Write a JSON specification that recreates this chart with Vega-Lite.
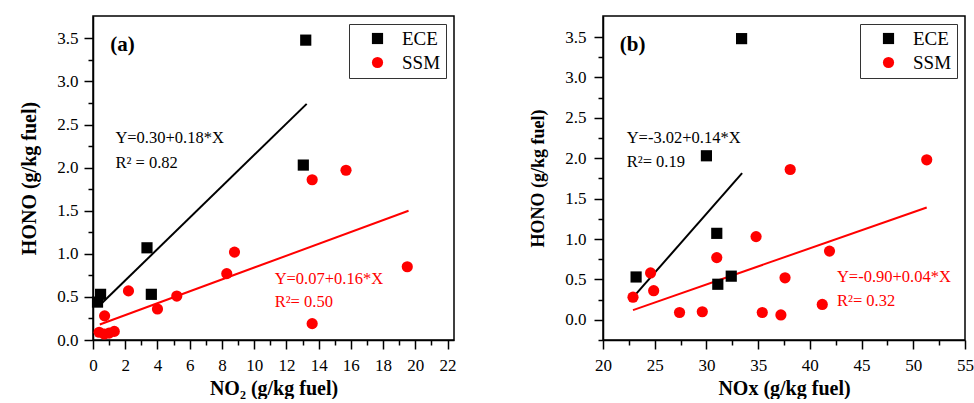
{
  "$schema": "https://vega.github.io/schema/vega-lite/v6.json",
  "autosize": {"type": "pad"},
  "padding": {"left": 19, "top": 15, "right": 0, "bottom": 0},
  "spacing": 149,
  "bounds": "flush",
  "resolve": {"scale": {"color": "independent", "shape": "independent"}},
  "datasets": {
    "aPts": [
      {"x": 13.2, "y": 3.48, "group": "ECE"},
      {"x": 13.05, "y": 2.03, "group": "ECE"},
      {"x": 3.35, "y": 1.07, "group": "ECE"},
      {"x": 3.62, "y": 0.53, "group": "ECE"},
      {"x": 0.47, "y": 0.53, "group": "ECE"},
      {"x": 0.28, "y": 0.44, "group": "ECE"},
      {"x": 13.6, "y": 1.86, "group": "SSM"},
      {"x": 15.7, "y": 1.97, "group": "SSM"},
      {"x": 19.5, "y": 0.85, "group": "SSM"},
      {"x": 13.6, "y": 0.19, "group": "SSM"},
      {"x": 8.78, "y": 1.02, "group": "SSM"},
      {"x": 8.3, "y": 0.77, "group": "SSM"},
      {"x": 5.2, "y": 0.51, "group": "SSM"},
      {"x": 4.0, "y": 0.36, "group": "SSM"},
      {"x": 2.2, "y": 0.57, "group": "SSM"},
      {"x": 0.72, "y": 0.28, "group": "SSM"},
      {"x": 0.38, "y": 0.09, "group": "SSM"},
      {"x": 0.7, "y": 0.07, "group": "SSM"},
      {"x": 1.0, "y": 0.08, "group": "SSM"},
      {"x": 1.32, "y": 0.1, "group": "SSM"}
    ],
    "aFit": [
      {"x": 0.4, "y": 0.4, "group": "ECE"},
      {"x": 13.26, "y": 2.74, "group": "ECE"},
      {"x": 0.42, "y": 0.18, "group": "SSM"},
      {"x": 19.58, "y": 1.5, "group": "SSM"}
    ],
    "aTxt": [
      {"x": 1.39, "y": 2.34, "label": "Y=0.30+0.18*X", "group": "ECE"},
      {"x": 1.39, "y": 2.05, "label": "R² = 0.82", "group": "ECE"},
      {"x": 11.27, "y": 0.71, "label": "Y=0.07+0.16*X", "group": "SSM"},
      {"x": 11.27, "y": 0.44, "label": "R²= 0.50", "group": "SSM"}
    ],
    "aTag": [{"x": 1.07, "y": 3.42, "label": "(a)"}],
    "bPts": [
      {"x": 33.4, "y": 3.48, "group": "ECE"},
      {"x": 30.0, "y": 2.03, "group": "ECE"},
      {"x": 31.0, "y": 1.07, "group": "ECE"},
      {"x": 31.1, "y": 0.44, "group": "ECE"},
      {"x": 32.4, "y": 0.54, "group": "ECE"},
      {"x": 23.2, "y": 0.53, "group": "ECE"},
      {"x": 51.3, "y": 1.98, "group": "SSM"},
      {"x": 38.1, "y": 1.86, "group": "SSM"},
      {"x": 34.8, "y": 1.03, "group": "SSM"},
      {"x": 41.9, "y": 0.85, "group": "SSM"},
      {"x": 31.0, "y": 0.77, "group": "SSM"},
      {"x": 24.6, "y": 0.58, "group": "SSM"},
      {"x": 24.9, "y": 0.36, "group": "SSM"},
      {"x": 37.6, "y": 0.52, "group": "SSM"},
      {"x": 22.9, "y": 0.28, "group": "SSM"},
      {"x": 27.4, "y": 0.09, "group": "SSM"},
      {"x": 29.6, "y": 0.1, "group": "SSM"},
      {"x": 35.4, "y": 0.09, "group": "SSM"},
      {"x": 37.2, "y": 0.06, "group": "SSM"},
      {"x": 41.2, "y": 0.19, "group": "SSM"}
    ],
    "bFit": [
      {"x": 23.2, "y": 0.32, "group": "ECE"},
      {"x": 33.45, "y": 1.815, "group": "ECE"},
      {"x": 22.9, "y": 0.12, "group": "SSM"},
      {"x": 51.3, "y": 1.39, "group": "SSM"}
    ],
    "bTxt": [
      {"x": 22.29, "y": 2.25, "label": "Y=-3.02+0.14*X", "group": "ECE"},
      {"x": 22.29, "y": 1.955, "label": "R²= 0.19", "group": "ECE"},
      {"x": 42.62, "y": 0.53, "label": "Y=-0.90+0.04*X", "group": "SSM"},
      {"x": 42.62, "y": 0.235, "label": "R²= 0.32", "group": "SSM"}
    ],
    "bTag": [{"x": 21.62, "y": 3.4, "label": "(b)"}]
  },
  "hconcat": [
    {
      "width": 361,
      "height": 324,
      "encoding": {
        "x": {
          "field": "x", "type": "quantitative",
          "scale": {"domain": [0, 22.4], "nice": false, "zero": false},
          "axis": {
            "title": "NO₂ (g/kg fuel)",
            "values": [0,1,2,3,4,5,6,7,8,9,10,11,12,13,14,15,16,17,18,19,20,21,22],
            "format": "d",
            "labelExpr": "datum.value % 2 === 0 ? datum.label : ''",
            "tickSize": {"condition": {"test": "datum.value % 2 === 0", "value": 9}, "value": 5},
            "labelPadding": 8,
            "titlePadding": 5
          }
        },
        "y": {
          "field": "y", "type": "quantitative",
          "scale": {"domain": [0, 3.76], "nice": false, "zero": false},
          "axis": {
            "title": "HONO (g/kg fuel)",
            "values": [0,0.25,0.5,0.75,1,1.25,1.5,1.75,2,2.25,2.5,2.75,3,3.25,3.5],
            "format": ".1f",
            "labelExpr": "datum.value % 0.5 === 0 ? datum.label : ''",
            "tickSize": {"condition": {"test": "datum.value % 0.5 === 0", "value": 9}, "value": 5},
            "labelPadding": 6,
            "titlePadding": 17
          }
        }
      },
      "layer": [
        {
          "data": {"name": "aFit"},
          "transform": [{"filter": "datum.group === 'ECE'"}],
          "mark": {"type": "line", "color": "black", "strokeWidth": 2}
        },
        {
          "data": {"name": "aFit"},
          "transform": [{"filter": "datum.group === 'SSM'"}],
          "mark": {"type": "line", "color": "#ff0000", "strokeWidth": 2}
        },
        {
          "data": {"name": "aPts"},
          "mark": {"type": "point", "filled": true, "opacity": 1, "size": 125, "strokeWidth": 0},
          "encoding": {
            "shape": {"field": "group", "type": "nominal", "scale": {"domain": ["ECE", "SSM"], "range": ["square", "circle"]}, "legend": {"orient": "top-right", "title": null}},
            "color": {"field": "group", "type": "nominal", "scale": {"domain": ["ECE", "SSM"], "range": ["#000000", "#ff0000"]}, "legend": {"orient": "top-right", "title": null}}
          }
        },
        {
          "data": {"name": "aTxt"},
          "transform": [{"filter": "datum.group === 'ECE'"}],
          "mark": {"type": "text", "align": "left", "baseline": "middle", "fontSize": 16.5, "font": "Liberation Serif", "color": "black"},
          "encoding": {"text": {"field": "label"}}
        },
        {
          "data": {"name": "aTxt"},
          "transform": [{"filter": "datum.group === 'SSM'"}],
          "mark": {"type": "text", "align": "left", "baseline": "middle", "fontSize": 16.5, "font": "Liberation Serif", "color": "#ff0000"},
          "encoding": {"text": {"field": "label"}}
        },
        {
          "data": {"name": "aTag"},
          "mark": {"type": "text", "align": "left", "baseline": "middle", "fontSize": 21, "fontWeight": "bold", "font": "Liberation Serif", "color": "black"},
          "encoding": {"text": {"field": "label"}}
        }
      ]
    },
    {
      "width": 362,
      "height": 324,
      "encoding": {
        "x": {
          "field": "x", "type": "quantitative",
          "scale": {"domain": [20, 55], "nice": false, "zero": false},
          "axis": {
            "title": "NOx  (g/kg fuel)",
            "values": [20,22.5,25,27.5,30,32.5,35,37.5,40,42.5,45,47.5,50,52.5,55],
            "format": "d",
            "labelExpr": "datum.value % 5 === 0 ? datum.label : ''",
            "tickSize": {"condition": {"test": "datum.value % 5 === 0", "value": 9}, "value": 5},
            "labelPadding": 8,
            "titlePadding": 5
          }
        },
        "y": {
          "field": "y", "type": "quantitative",
          "scale": {"domain": [-0.25, 3.76], "nice": false, "zero": false},
          "axis": {
            "title": "HONO (g/kg fuel)",
            "titleFontSize": 18,
            "values": [-0.25,0,0.25,0.5,0.75,1,1.25,1.5,1.75,2,2.25,2.5,2.75,3,3.25,3.5],
            "format": ".1f",
            "labelExpr": "datum.value % 0.5 === 0 ? datum.label : ''",
            "tickSize": {"condition": {"test": "datum.value % 0.5 === 0", "value": 9}, "value": 5},
            "labelPadding": 8,
            "titlePadding": 17
          }
        }
      },
      "layer": [
        {
          "data": {"name": "bFit"},
          "transform": [{"filter": "datum.group === 'ECE'"}],
          "mark": {"type": "line", "color": "black", "strokeWidth": 2}
        },
        {
          "data": {"name": "bFit"},
          "transform": [{"filter": "datum.group === 'SSM'"}],
          "mark": {"type": "line", "color": "#ff0000", "strokeWidth": 2}
        },
        {
          "data": {"name": "bPts"},
          "mark": {"type": "point", "filled": true, "opacity": 1, "size": 125, "strokeWidth": 0},
          "encoding": {
            "shape": {"field": "group", "type": "nominal", "scale": {"domain": ["ECE", "SSM"], "range": ["square", "circle"]}, "legend": {"orient": "top-right", "title": null}},
            "color": {"field": "group", "type": "nominal", "scale": {"domain": ["ECE", "SSM"], "range": ["#000000", "#ff0000"]}, "legend": {"orient": "top-right", "title": null}}
          }
        },
        {
          "data": {"name": "bTxt"},
          "transform": [{"filter": "datum.group === 'ECE'"}],
          "mark": {"type": "text", "align": "left", "baseline": "middle", "fontSize": 16.5, "font": "Liberation Serif", "color": "black"},
          "encoding": {"text": {"field": "label"}}
        },
        {
          "data": {"name": "bTxt"},
          "transform": [{"filter": "datum.group === 'SSM'"}],
          "mark": {"type": "text", "align": "left", "baseline": "middle", "fontSize": 16.5, "font": "Liberation Serif", "color": "#ff0000"},
          "encoding": {"text": {"field": "label"}}
        },
        {
          "data": {"name": "bTag"},
          "mark": {"type": "text", "align": "left", "baseline": "middle", "fontSize": 21, "fontWeight": "bold", "font": "Liberation Serif", "color": "black"},
          "encoding": {"text": {"field": "label"}}
        }
      ]
    }
  ],
  "config": {
    "font": "Liberation Serif",
    "view": {"stroke": "black", "strokeWidth": 1.5},
    "axis": {
      "grid": false,
      "domainColor": "black", "domainWidth": 1.5,
      "tickColor": "black", "tickWidth": 1.5,
      "labelColor": "black", "labelFont": "Liberation Serif", "labelFontSize": 17,
      "labelOverlap": false, "labelBound": false, "labelFlush": false,
      "titleColor": "black", "titleFont": "Liberation Serif", "titleFontSize": 20, "titleFontWeight": "bold"
    },
    "legend": {
      "labelFont": "Liberation Serif", "labelFontSize": 19, "labelColor": "black",
      "strokeColor": "#333333", "fillColor": "white", "padding": 5,
      "symbolOffset": 14, "labelOffset": 15, "rowPadding": 4,
      "symbolSize": 125, "symbolStrokeWidth": 0, "offset": 8
    }
  }
}
